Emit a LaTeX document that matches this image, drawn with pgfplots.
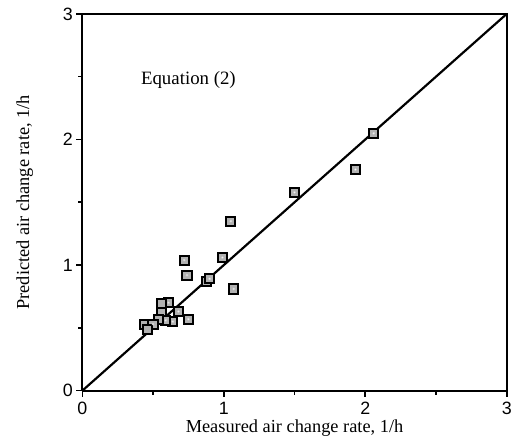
\documentclass[border=0pt]{standalone}
\usepackage{fontspec}
\setmainfont{Liberation Serif}
\newfontfamily\hv{Liberation Sans}
\usepackage{pgfplots}
\pgfplotsset{compat=1.18}

\begin{document}
\begin{tikzpicture}[x=1pt,y=1pt]
\begin{axis}[
    at={(0,0)}, anchor=south west,
    scale only axis, width=428pt, height=380pt,
    xmin=0, xmax=3, ymin=0, ymax=3,
    xtick={0,1,2,3}, ytick={0,1,2,3},
    minor xtick={0.5,1.5,2.5}, minor ytick={0.5,1.5,2.5},
    tick align=outside, major tick length=6pt, minor tick length=4pt,
    axis x line*=bottom, axis y line*=left,
    every tick/.style={black, line width=1.6pt},
    axis line style={line width=2pt},
    tick label style={font=\hv\fontsize{18}{19}\selectfont},
    xticklabel style={yshift=-2pt},
    /pgf/number format/assume math mode=true,
    xlabel={Measured air change rate, 1/h},
    ylabel={Predicted air change rate, 1/h},
    label style={font=\fontsize{18.5}{20}\selectfont},
    xlabel style={at={(axis description cs:0.5,-0.1)}, anchor=center},
    ylabel style={at={(axis description cs:-0.1355,0.5)}, anchor=center, rotate=0},
    clip=false,
]
\addplot[black, line width=2.2pt] coordinates {(0,0)(3,3)};
% top and right frame
\addplot[black, line width=2pt] coordinates {(0,3)(3,3)(3,0)};
\addplot[only marks, mark=square*, mark size=4.6pt,
    mark options={fill=gray!60, draw=black, line width=2pt}] coordinates {
    (2.06,2.05) (1.93,1.76) (1.50,1.58) (1.05,1.35)
    (0.72,1.04) (0.74,0.92) (0.99,1.06) (0.88,0.87) (0.90,0.89)
    (1.07,0.81)
    (0.61,0.70) (0.56,0.69) (0.68,0.63) (0.56,0.62) (0.75,0.57)
    (0.64,0.55) (0.59,0.56) (0.54,0.57) (0.44,0.53) (0.50,0.53)
    (0.46,0.49)
};
\addplot[only marks, mark=*, mark size=1.1pt,
    mark options={fill=white, draw=gray!40}] coordinates {
    (2.06,2.05) (1.93,1.76) (1.50,1.58) (1.05,1.35)
    (0.72,1.04) (0.74,0.92) (0.99,1.06) (0.90,0.89)
    (1.07,0.81)
    (0.61,0.70) (0.68,0.63) (0.75,0.57)
    (0.64,0.55) (0.59,0.56) (0.50,0.53)
};
\node[font=\fontsize{19}{20}\selectfont] at (axis cs:0.75,2.47) {Equation (2)};
\end{axis}
\useasboundingbox (-83,-55) rectangle (432,394);
\end{tikzpicture}
\end{document}
